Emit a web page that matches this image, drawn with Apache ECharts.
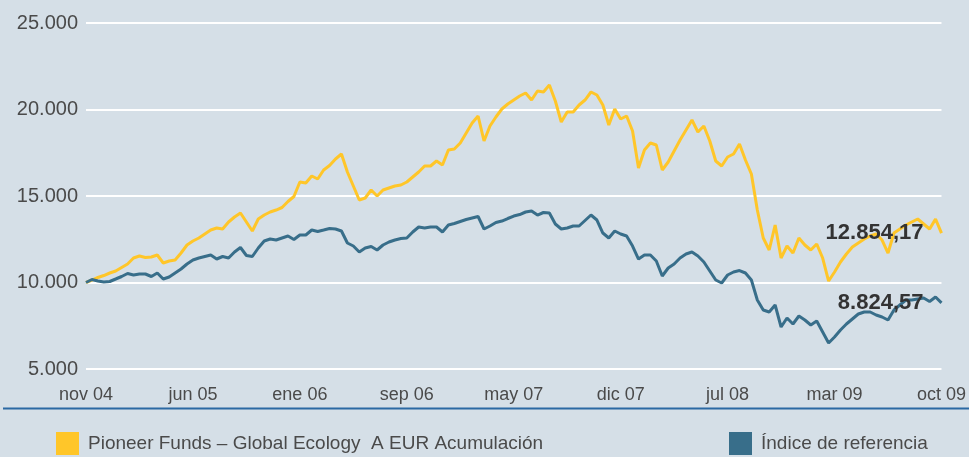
<!DOCTYPE html>
<html>
<head>
<meta charset="utf-8">
<script src="https://cdn.jsdelivr.net/npm/echarts@6/dist/echarts.min.js"></script>
<style>
  html, body { margin: 0; padding: 0; background: #d5dfe7; }
  #chart { width: 969px; height: 457px; }
</style>
</head>
<body>
<div id="chart"></div>
<script>
// Growth of 10.000 invested, nov 2004 – oct 2009 (sampled roughly every 2 weeks)
const fundName = 'Pioneer Funds – Global Ecology  A EUR Acumulación';
const indexName = 'Índice de referencia';

const tickLabels = ['nov 04', 'jun 05', 'ene 06', 'sep 06', 'may 07', 'dic 07', 'jul 08', 'mar 09', 'oct 09'];
const pointsPerTick = 18;

const fundValues = [
  10000, 10144, 10289, 10404, 10549, 10664, 10867, 11069, 11416, 11531,
  11445, 11474, 11589, 11127, 11242, 11300, 11705, 12167, 12398, 12572,
  12803, 13034, 13150, 13092, 13497, 13786, 14017, 13497, 12976, 13670,
  13901, 14075, 14190, 14335, 14682, 14971, 15809, 15751, 16155, 15982,
  16502, 16762, 17138, 17427, 16387, 15577, 14768, 14884, 15346, 14999,
  15346, 15462, 15577, 15635, 15809, 16098, 16387, 16733, 16733, 17022,
  16791, 17658, 17716, 18063, 18641, 19219, 19623, 18178, 19045, 19566,
  20028, 20317, 20548, 20779, 20953, 20548, 21068, 21011, 21415, 20490,
  19277, 19855, 19855, 20259, 20548, 21011, 20837, 20259, 19103, 20028,
  19450, 19623, 18756, 16618, 17658, 18063, 17947, 16502, 16965, 17600,
  18236, 18814, 19392, 18699, 19045, 18178, 17022, 16733, 17254, 17427,
  18005, 17080, 16271, 14190, 12572, 11878, 13323, 11416, 12109, 11705,
  12572, 12167, 11878, 12225, 11416, 10086, 10607, 11185, 11647, 12052,
  12283, 12514, 12687, 12803, 12456, 11705, 12861, 13092, 13323, 13497,
  13670, 13381, 13092, 13670, 12854.17
];

const indexValues = [
  10000, 10173, 10086, 10029, 10058, 10202, 10347, 10520, 10433, 10491,
  10491, 10347, 10549, 10202, 10318, 10549, 10780, 11069, 11300, 11416,
  11503, 11589, 11358, 11503, 11416, 11763, 12023, 11560, 11503, 11994,
  12398, 12514, 12456, 12572, 12687, 12485, 12745, 12745, 13034, 12948,
  13034, 13121, 13092, 12976, 12283, 12109, 11763, 11994, 12081, 11878,
  12167, 12341, 12456, 12543, 12572, 12919, 13208, 13150, 13208, 13208,
  12919, 13323, 13410, 13526, 13641, 13728, 13815, 13092, 13265, 13468,
  13554, 13699, 13843, 13930, 14075, 14132, 13901, 14046, 14017, 13381,
  13092, 13150, 13265, 13265, 13583, 13901, 13612, 12861, 12572, 12976,
  12803, 12687, 12109, 11358, 11589, 11589, 11242, 10375, 10838, 11069,
  11416, 11647, 11763, 11531, 11185, 10664, 10144, 9971, 10433, 10607,
  10693, 10549, 10144, 8988, 8410, 8295, 8699, 7428, 7948, 7601,
  8063, 7832, 7543, 7774, 7139, 6503, 6850, 7254, 7601, 7890,
  8179, 8295, 8295, 8121, 8006, 7832, 8410, 8699, 8988, 8988,
  9046, 9104, 8902, 9162, 8824.57
];

const categories = fundValues.map((_, i) => i);

const fontFamily = "'Liberation Sans', 'DejaVu Sans', sans-serif";
const bg = '#d5dfe7';
const fundColor = '#ffc629';
const indexColor = '#386e8a';
const textColor = '#4a4a4a';

// Spanish number formatting: 12854.17 -> "12.854,17"
function fmtEs(v, decimals) {
  const parts = Number(v).toFixed(decimals).split('.');
  const intPart = parts[0].replace(/\B(?=(\d{3})+(?!\d))/g, '.');
  return parts.length > 1 ? intPart + ',' + parts[1] : intPart;
}

// Value of the last point, written just left of where the line ends
const endLabelStyle = {
  show: true,
  formatter: p => fmtEs(p.value, 2),
  align: 'right',
  verticalAlign: 'middle',
  distance: 0,
  offset: [-18, 0],
  fontFamily: fontFamily,
  fontWeight: 'bold',
  fontSize: 22,
  color: '#333333'
};

const chart = echarts.init(document.getElementById('chart'), null, { renderer: 'canvas' });

chart.setOption({
  backgroundColor: bg,
  animation: false,
  grid: { left: 86, right: 25, top: 23, bottom: 88, containLabel: false },
  xAxis: {
    type: 'category',
    data: categories,
    boundaryGap: false,
    axisLine: { show: false },
    axisTick: { show: false },
    splitLine: { show: false },
    axisLabel: {
      interval: (idx) => idx % pointsPerTick === 0,
      formatter: (val) => tickLabels[Math.round(Number(val) / pointsPerTick)],
      margin: 17,
      fontFamily: fontFamily,
      fontSize: 18,
      color: textColor
    }
  },
  yAxis: {
    type: 'value',
    min: 5000,
    max: 25000,
    interval: 5000,
    axisLine: { show: false },
    axisTick: { show: false },
    splitLine: { lineStyle: { color: '#ffffff', width: 2 } },
    axisLabel: {
      formatter: v => fmtEs(v, 0),
      margin: 8,
      fontFamily: fontFamily,
      fontSize: 20,
      color: textColor
    }
  },
  legend: [
    {
      data: [fundName],
      left: 56, top: 432, padding: 0,
      icon: 'rect', itemWidth: 23, itemHeight: 23,
      textStyle: { fontFamily: fontFamily, fontSize: 19, color: textColor, padding: [3, 0, 0, 4] }
    },
    {
      data: [indexName],
      left: 729, top: 432, padding: 0,
      icon: 'rect', itemWidth: 23, itemHeight: 23,
      textStyle: { fontFamily: fontFamily, fontSize: 19, color: textColor, padding: [3, 0, 0, 4] }
    }
  ],
  graphic: [
    {
      type: 'line',
      silent: true,
      shape: { x1: 3, y1: 408.5, x2: 969, y2: 408.5 },
      style: { stroke: '#2b69a3', lineWidth: 2 }
    }
  ],
  series: [
    {
      name: fundName,
      type: 'line',
      data: fundValues,
      showSymbol: false,
      symbol: 'none',
      color: fundColor,
      lineStyle: { color: fundColor, width: 3 },
      endLabel: endLabelStyle,
      z: 2
    },
    {
      name: indexName,
      type: 'line',
      data: indexValues,
      showSymbol: false,
      symbol: 'none',
      color: indexColor,
      lineStyle: { color: indexColor, width: 3 },
      endLabel: endLabelStyle,
      z: 3
    }
  ]
});
</script>
</body>
</html>
